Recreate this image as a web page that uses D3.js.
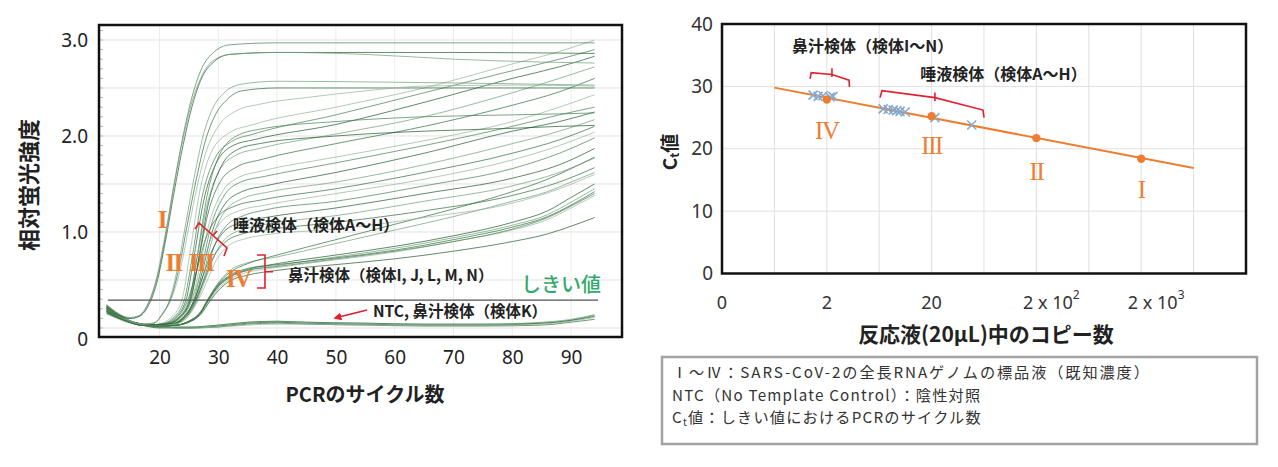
<!DOCTYPE html>
<html lang="ja">
<head>
<meta charset="utf-8">
<script src="https://cdn.jsdelivr.net/npm/d3@7"></script>
<style>
  body { margin: 0; background: #fff; }
</style>
</head>
<body>
<div id="chart"></div>
<script>
// ---- left panel: amplification curves [cycle, relative fluorescence] ----
const cycleTicks = [20, 30, 40, 50, 60, 70, 80, 90];
const rfuTicks = [0, 1, 2, 3];
const rfuTickLabels = ["0", "1.0", "2.0", "3.0"];
const rfuGrid = [0, 0.5, 1, 1.5, 2, 2.5, 3];
const thresholdRfu = 0.29;
const thresholdCycles = [11.2, 94.6];

const stdICurves = [
  [[11,.22],[13,.14],[15,.1],[16.5,.12],[18,.24],[19.5,.5],[21,.95],[22.5,1.5],[24,2.0],[25.5,2.4],[27,2.68],[29,2.86],[32,2.95],[40,2.97],[94,2.97]],
  [[11,.2],[13,.13],[15,.1],[16.5,.12],[18,.22],[19.5,.46],[21,.9],[22.5,1.42],[24,1.9],[25.5,2.3],[27,2.58],[29,2.76],[32,2.85],[40,2.87],[70,2.87],[94,2.86]],
  [[11,.24],[13,.15],[15,.11],[16.5,.13],[18,.25],[19.5,.52],[21,.98],[22.5,1.5],[24,1.97],[25.5,2.35],[27,2.6],[29,2.78],[32,2.85],[40,2.87],[55,2.85],[70,2.8],[85,2.77],[94,2.76]]
];
const stdIICurves = [
  [[11,.2],[14,.1],[17,.04],[19,.05],[20.5,.14],[21.7,.29],[23,.6],[24.5,1.1],[26,1.6],[27.5,2.02],[29,2.28],[31,2.45],[34,2.54],[40,2.57],[60,2.56],[94,2.53]],
  [[11,.18],[14,.1],[17,.04],[19,.05],[20.5,.15],[22,.32],[23.3,.62],[24.8,1.1],[26.3,1.56],[27.8,1.95],[29.5,2.22],[31.5,2.38],[34,2.47],[40,2.5],[94,2.5]],
  [[11,.2],[14,.1],[17,.04],[19,.05],[20.5,.14],[22,.3],[23.5,.6],[25,1.05],[26.5,1.5],[28,1.85],[30,2.1],[33,2.26],[37,2.33],[45,2.4],[55,2.47],[65,2.52],[80,2.53],[94,2.52]]
];
const salivaCurves = [
  [[11,.2],[14,.09],[17,.03],[19.8,.04],[21.8,.1],[23.8,.29],[25.3,.83],[26.8,1.41],[28.8,1.83],[31.8,2.03],[36,2.12],[50,2.3],[65,2.5],[80,2.75],[88,2.88],[94,3.0]],
  [[11,.22],[14,.1],[17,.03],[20.2,.04],[22.2,.1],[24.2,.29],[25.7,.79],[27.2,1.35],[29.2,1.74],[32.2,1.94],[36,2.02],[50,2.22],[65,2.45],[80,2.68],[88,2.8],[94,2.9]],
  [[11,.18],[14,.09],[17,.03],[20.5,.04],[22.5,.1],[24.5,.29],[26,.79],[27.5,1.32],[29.5,1.7],[32.5,1.9],[36,1.96],[50,2.12],[65,2.35],[80,2.6],[88,2.72],[94,2.83]],
  [[11,.21],[14,.1],[17,.03],[21,.04],[23,.1],[25,.29],[26.5,.76],[28,1.26],[30,1.62],[33,1.8],[37,1.87],[50,2.02],[65,2.2],[80,2.45],[88,2.6],[94,2.72]],
  [[11,.16],[14,.08],[17,.03],[21.2,.04],[23.2,.1],[25.2,.29],[26.7,.72],[28.2,1.18],[30.2,1.51],[33.2,1.68],[37,1.75],[50,1.92],[65,2.1],[80,2.32],[88,2.46],[94,2.6]],
  [[11,.2],[14,.09],[17,.03],[21.5,.04],[23.5,.1],[25.5,.29],[27,.68],[28.5,1.1],[30.5,1.4],[33.5,1.57],[37,1.63],[50,1.78],[65,1.95],[80,2.15],[88,2.3],[94,2.43]],
  [[11,.23],[14,.1],[17,.03],[21.8,.04],[23.8,.1],[25.8,.29],[27.3,.67],[28.8,1.07],[30.8,1.36],[33.8,1.52],[38,1.58],[50,1.72],[65,1.9],[80,2.1],[88,2.22],[94,2.3]],
  [[11,.19],[14,.09],[17,.03],[22,.04],[24,.1],[26,.29],[27.5,.64],[29,1.01],[31,1.28],[34,1.42],[38,1.48],[50,1.62],[65,1.82],[80,2.05],[88,2.15],[94,2.25]],
  [[11,.17],[14,.08],[17,.03],[22.2,.04],[24.2,.1],[26.2,.29],[27.7,.62],[29.2,.97],[31.2,1.22],[34.2,1.35],[38,1.41],[50,1.52],[65,1.7],[80,1.92],[88,2.05],[94,2.17]],
  [[11,.22],[14,.1],[17,.03],[20.8,.04],[22.8,.1],[24.8,.29],[26.3,.59],[27.8,.92],[29.8,1.15],[32.8,1.27],[37,1.33],[50,1.45],[65,1.62],[80,1.82],[88,1.96],[94,2.1]],
  [[11,.2],[14,.09],[17,.03],[21.5,.04],[23.5,.1],[25.5,.29],[27,.58],[28.5,.89],[30.5,1.11],[33.5,1.22],[38,1.28],[50,1.4],[65,1.55],[80,1.75],[88,1.9],[94,2.04]],
  [[11,.15],[14,.08],[17,.03],[22.3,.04],[24.3,.1],[26.3,.29],[27.8,.56],[29.3,.85],[31.3,1.06],[34.3,1.17],[38,1.23],[50,1.32],[65,1.48],[80,1.66],[88,1.82],[94,1.98]],
  [[11,.21],[14,.1],[17,.03],[21.9,.04],[23.9,.1],[25.9,.29],[27.4,.54],[28.9,.8],[30.9,1.0],[33.9,1.1],[38,1.15],[50,1.25],[65,1.4],[80,1.56],[88,1.7],[94,1.87]],
  [[11,.18],[14,.09],[17,.03],[22.4,.04],[24.4,.1],[26.4,.29],[27.9,.52],[29.4,.76],[31.4,.94],[34.4,1.03],[38,1.08],[50,1.17],[65,1.32],[80,1.48],[88,1.62],[94,1.77]],
  [[11,.24],[14,.11],[17,.03],[22.1,.04],[24.1,.1],[26.1,.29],[27.6,.5],[29.1,.73],[31.1,.89],[34.1,.98],[38,1.02],[50,1.1],[65,1.22],[80,1.38],[88,1.52],[94,1.67]],
  [[11,.19],[14,.09],[17,.03],[22.6,.04],[24.6,.1],[26.6,.29],[28.1,.49],[29.6,.7],[31.6,.85],[34.6,.93],[38,.97],[50,1.03],[65,1.15],[80,1.3],[88,1.45],[94,1.6]],
  [[11,.2],[14,.09],[17,.03],[21.1,.04],[23.1,.1],[25.1,.29],[26.6,.82],[28.1,1.38],[30.1,1.79],[33.1,2.0],[37,2.07],[50,2.15],[65,2.2],[80,2.22],[88,2.23],[94,2.24]],
  [[11,.17],[14,.08],[17,.03],[21.3,.04],[23.3,.1],[25.3,.29],[26.8,.77],[28.3,1.29],[30.3,1.66],[33.3,1.86],[37,1.92],[50,2.0],[65,2.05],[80,2.08],[88,2.1],[94,2.11]]
];
const nasalCurves = [
  [[11,.2],[14,.09],[17,.04],[20,.02],[23,.03],[25,.07],[27,.16],[28.3,.29],[30,.44],[32,.54],[35,.61],[40,.67],[50,.76],[60,.85],[70,.96],[80,1.1],[86,1.22],[90,1.36],[94,1.5]],
  [[11,.18],[14,.08],[17,.04],[20,.02],[23,.03],[25,.06],[27,.15],[28.4,.29],[30,.43],[32,.53],[35,.6],[40,.65],[50,.74],[60,.83],[70,.94],[80,1.07],[86,1.18],[90,1.31],[94,1.45]],
  [[11,.22],[14,.1],[17,.04],[20,.02],[23,.03],[25,.07],[27,.17],[28.2,.29],[30,.45],[32,.55],[35,.62],[40,.66],[50,.73],[60,.81],[70,.92],[80,1.05],[86,1.16],[90,1.28],[94,1.42]],
  [[11,.16],[14,.08],[17,.04],[20,.02],[23,.03],[25,.06],[27,.15],[28.5,.29],[30,.41],[32,.51],[35,.58],[40,.63],[50,.71],[60,.79],[70,.9],[80,1.02],[86,1.13],[90,1.25],[94,1.38]],
  [[11,.21],[14,.09],[17,.04],[20,.02],[23,.03],[25,.07],[27,.16],[28.3,.29],[30,.43],[32,.53],[35,.6],[40,.64],[50,.72],[60,.8],[70,.9],[80,1.03],[86,1.15],[90,1.27],[94,1.4]],
  [[11,.19],[14,.09],[17,.04],[20,.02],[23,.03],[25,.06],[27,.14],[28.7,.29],[30,.39],[32,.49],[35,.55],[40,.6],[50,.66],[60,.72],[70,.8],[80,.9],[86,.98],[90,1.06],[94,1.15]],
  [[11,.2],[14,.09],[17,.04],[20,.02],[23,.03],[25,.07],[27,.17],[28.1,.29],[30,.47],[32,.6],[35,.68],[40,.74],[50,.88],[60,1.02],[70,1.16],[80,1.32],[86,1.42],[90,1.52],[94,1.62]],
  [[11,.23],[14,.1],[17,.04],[20,.02],[23,.03],[25,.07],[27,.16],[28.2,.29],[30,.46],[32,.58],[35,.67],[40,.76],[50,.92],[60,1.08],[70,1.24],[80,1.42],[86,1.55],[90,1.66],[94,1.78]]
];
const ntcCurves = [
  [[11,.18],[14,.08],[17,.03],[20,.01],[25,.0],[30,.02],[35,.05],[40,.06],[45,.05],[55,.04],[65,.03],[75,.03],[85,.05],[90,.08],[94,.12]],
  [[11,.15],[14,.07],[17,.03],[20,.01],[25,.01],[30,.03],[35,.06],[40,.07],[45,.06],[55,.05],[65,.04],[75,.04],[85,.06],[90,.09],[94,.14]],
  [[11,.2],[14,.09],[17,.03],[20,.0],[25,.0],[30,.01],[35,.04],[40,.05],[45,.04],[55,.03],[65,.02],[75,.02],[85,.03],[90,.06],[94,.09]],
  [[11,.22],[14,.1],[17,.04],[20,.01],[25,.0],[30,.01],[35,.03],[40,.04],[45,.04],[55,.03],[65,.03],[75,.03],[85,.04],[90,.07],[94,.11]],
  [[11,.17],[14,.08],[17,.03],[20,.01],[25,.01],[30,.03],[35,.06],[40,.07],[45,.06],[55,.05],[65,.04],[75,.04],[85,.05],[90,.08],[94,.13]]
];

// ---- right panel: standard curve (copies vs Ct) ----
const stdCopies = [2, 20, 200, 2000];
const stdCt = [27.9, 25.2, 21.7, 18.4];
const stdNames = ["IV", "III", "II", "I"];
const nasalCopies = [1.48, 1.65, 1.84, 2.15, 2.29];
const nasalCt = [28.6, 28.4, 28.5, 28.3, 28.4];
const salivaCopies = [6.9, 7.7, 8.6, 9.3, 10.0, 11.2, 21.5, 48.3];
const salivaCt = [26.4, 26.3, 26.2, 26.1, 26.0, 25.9, 25.0, 23.8];
const fitCopies = [0.632, 6325];
const fitCt = [29.8, 16.9];
const copyTicks = [0.2, 2, 20, 200, 2000];
const copyTickLabels = ["0", "2", "20", "2 x 10", "2 x 10"];
const copyTickSup = ["", "", "", "2", "3"];
const copyGrid = [0.632, 2, 6.32, 20, 63.2, 200, 632, 2000, 6325];
const ctTicks = [0, 10, 20, 30, 40];
const ctGrid = [10, 20, 30];

const noteLines = [
  "Ⅰ～Ⅳ：SARS-CoV-2の全長RNAゲノムの標品液（既知濃度）",
  "NTC（No Template Control）：陰性対照",
  "値：しきい値におけるPCRのサイクル数"
];

const W = 1278, H = 467;
const jp = "'Noto Sans CJK JP', 'Noto Sans', sans-serif";
const num = "'Noto Sans', 'Noto Sans CJK JP', sans-serif";
const serif = "'Liberation Serif', 'DejaVu Serif', serif";

const svg = d3.select("#chart").append("svg")
  .attr("width", W).attr("height", H)
  .attr("font-family", jp)
  .style("display", "block");

const orange = "#ed7d31";
const red = "#e0202e";

// ================= LEFT PANEL =================
const xL = d3.scaleLinear().domain([9.71, 98.66]).range([99, 622]);
const yL = d3.scaleLinear().domain([-0.094, 3.156]).range([337, 25]);

const left = svg.append("g");

left.selectAll(".hgrid").data(rfuGrid).enter().append("line")
  .attr("x1", xL.range()[0]).attr("x2", xL.range()[1])
  .attr("y1", d => yL(d)).attr("y2", d => yL(d))
  .attr("stroke", "#e2e2e2").attr("stroke-width", 1);
left.selectAll(".vgrid").data(cycleTicks).enter().append("line")
  .attr("x1", d => xL(d)).attr("x2", d => xL(d))
  .attr("y1", yL.range()[0]).attr("y2", yL.range()[1])
  .attr("stroke", "#ececec").attr("stroke-width", 1);
left.selectAll(".minor").data(d3.range(0, 3.15, 0.1)).enter().append("line")
  .attr("x1", xL.range()[0]).attr("x2", xL.range()[0] + 4)
  .attr("y1", d => yL(d)).attr("y2", d => yL(d))
  .attr("stroke", "#b5b5b5").attr("stroke-width", 1);

const ampCurves = [...ntcCurves, ...nasalCurves, ...salivaCurves, ...stdIICurves, ...stdICurves];
const greens = ["#1f5a2b", "#6f9c78", "#2f6e3b", "#93b398", "#467f50"];
const ampLine = d3.line()
  .x(d => xL(d[0])).y(d => yL(d[1]))
  .curve(d3.curveMonotoneX);

left.selectAll(".amp").data(ampCurves).enter().append("path")
  .attr("d", ampLine)
  .attr("fill", "none")
  .attr("stroke", (d, i) => greens[i % greens.length])
  .attr("stroke-opacity", 0.7)
  .attr("stroke-width", 1);

left.append("line")
  .attr("x1", xL(thresholdCycles[0])).attr("x2", xL(thresholdCycles[1]))
  .attr("y1", yL(thresholdRfu)).attr("y2", yL(thresholdRfu))
  .attr("stroke", "#555").attr("stroke-width", 1.2);

left.append("rect")
  .attr("x", xL.range()[0]).attr("y", yL.range()[1])
  .attr("width", xL.range()[1] - xL.range()[0])
  .attr("height", yL.range()[0] - yL.range()[1])
  .attr("fill", "none").attr("stroke", "#111").attr("stroke-width", 2.5);

const axL = left.append("g")
  .attr("transform", `translate(${xL.range()[0]},0)`)
  .call(d3.axisLeft(yL).tickValues(rfuTicks).tickSize(0).tickPadding(11)
    .tickFormat((d, i) => rfuTickLabels[i]));
axL.select(".domain").remove();
axL.selectAll("text").attr("font-size", 19).attr("fill", "#222")
  .style("font-family", num)
  .attr("transform", d => d === 0 ? "translate(0,11)" : null);

const axB = left.append("g")
  .attr("transform", `translate(0,${yL.range()[0]})`)
  .call(d3.axisBottom(xL).tickValues(cycleTicks).tickSize(0).tickPadding(14));
axB.select(".domain").remove();
axB.selectAll("text").attr("font-size", 19).attr("fill", "#222")
  .style("font-family", num);

left.append("text")
  .attr("transform", "translate(27,185) rotate(-90)")
  .attr("text-anchor", "middle").attr("dominant-baseline", "central")
  .attr("font-size", 22).attr("font-weight", "bold").attr("fill", "#222")
  .text("相対蛍光強度");
left.append("text")
  .attr("x", 365).attr("y", 393)
  .attr("text-anchor", "middle").attr("dominant-baseline", "central")
  .attr("font-size", 20).attr("font-weight", "bold").attr("fill", "#222")
  .text("PCRのサイクル数");

// annotations (data units)
const leftNumerals = [["I", 20.4, 1.125], ["II", 22.4, 0.68], ["III", 27.1, 0.68], ["IV", 33.4, 0.52]];
left.selectAll(".lnum").data(leftNumerals).enter().append("text")
  .attr("x", d => xL(d[1])).attr("y", d => yL(d[2]))
  .attr("text-anchor", "middle").attr("dominant-baseline", "central")
  .style("font-family", serif).attr("letter-spacing", -1.5)
  .attr("font-size", 25).attr("font-weight", "bold").attr("fill", orange)
  .text(d => d[0]);

const leftLabels = [
  ["唾液検体（検体A～H）", 32.5, 1.083, 16],
  ["鼻汁検体（検体I, J, L, M, N）", 41.85, 0.5625, 15.5],
  ["NTC, 鼻汁検体（検体K）", 56.3, 0.1875, 15.5]
];
left.selectAll(".llab").data(leftLabels).enter().append("text")
  .attr("x", d => xL(d[1])).attr("y", d => yL(d[2]))
  .attr("dominant-baseline", "central")
  .attr("font-size", d => d[3]).attr("font-weight", "bold").attr("fill", "#222")
  .text(d => d[0]);

left.append("text")
  .attr("x", xL(88.3)).attr("y", yL(0.46))
  .attr("text-anchor", "middle").attr("dominant-baseline", "central")
  .attr("font-size", 20).attr("font-weight", 500).attr("fill", "#33a96b")
  .text("しきい値");

const bracketLine = d3.line().x(d => xL(d[0])).y(d => yL(d[1]));
const leftBrackets = [
  [[26.04, 1.031], [26.72, 1.094], [31.48, 0.833], [30.97, 0.75]],
  [[29.1, 0.964], [29.78, 1.01]],
  [[36.58, 0.76], [37.94, 0.76], [37.94, 0.417], [36.58, 0.417]],
  [[37.94, 0.586], [39.3, 0.586]]
];
left.selectAll(".lbr").data(leftBrackets).enter().append("path")
  .attr("d", bracketLine).attr("fill", "none")
  .attr("stroke", red).attr("stroke-width", 1.6);

// arrow to NTC curves
svg.append("defs").append("marker")
  .attr("id", "arrowhead").attr("viewBox", "0 0 10 10")
  .attr("refX", 8).attr("refY", 5)
  .attr("markerWidth", 5).attr("markerHeight", 5)
  .attr("orient", "auto")
  .append("path").attr("d", "M0,0 L10,5 L0,10 z").attr("fill", red);
left.append("line")
  .attr("x1", xL(55.3)).attr("y1", yL(0.1875))
  .attr("x2", xL(49.85)).attr("y2", yL(0.104))
  .attr("stroke", red).attr("stroke-width", 1.6)
  .attr("marker-end", "url(#arrowhead)");

// ================= RIGHT PANEL =================
const xR = d3.scaleLog().domain([0.2, 20000]).range([722, 1246]);
const yR = d3.scaleLinear().domain([0, 40]).range([273.5, 24]);

const right = svg.append("g");

right.selectAll(".rv").data(copyGrid).enter().append("line")
  .attr("x1", d => xR(d)).attr("x2", d => xR(d))
  .attr("y1", yR(0)).attr("y2", yR(40))
  .attr("stroke", "#e0e0e0").attr("stroke-width", 1);
right.selectAll(".rh").data(ctGrid).enter().append("line")
  .attr("x1", xR.range()[0]).attr("x2", xR.range()[1])
  .attr("y1", d => yR(d)).attr("y2", d => yR(d))
  .attr("stroke", "#e0e0e0").attr("stroke-width", 1);

right.append("path")
  .datum(d3.zip(fitCopies, fitCt))
  .attr("d", d3.line().x(d => xR(d[0])).y(d => yR(d[1])))
  .attr("fill", "none").attr("stroke", orange).attr("stroke-width", 2);

const crossData = [...d3.zip(nasalCopies, nasalCt), ...d3.zip(salivaCopies, salivaCt)];
right.selectAll(".cross").data(crossData).enter().append("path")
  .attr("d", d => {
    const cx = xR(d[0]), cy = yR(d[1]), s = 4.5;
    return `M${cx - s},${cy - s}L${cx + s},${cy + s}M${cx - s},${cy + s}L${cx + s},${cy - s}`;
  })
  .attr("stroke", "#86a9cf").attr("stroke-width", 1.6).attr("fill", "none");

right.selectAll(".std").data(d3.zip(stdCopies, stdCt)).enter().append("circle")
  .attr("cx", d => xR(d[0])).attr("cy", d => yR(d[1]))
  .attr("r", 4.2).attr("fill", orange);

const rightNumeralCt = [23, 20.6, 16.3, 13.5];
right.selectAll(".rnum").data(stdNames).enter().append("text")
  .attr("x", (d, i) => xR(stdCopies[i])).attr("y", (d, i) => yR(rightNumeralCt[i]))
  .attr("text-anchor", "middle").attr("dominant-baseline", "central")
  .style("font-family", serif).attr("letter-spacing", -1.5)
  .attr("font-size", 25).attr("fill", orange)
  .text(d => d);

right.append("rect")
  .attr("x", xR.range()[0]).attr("y", yR(40))
  .attr("width", xR.range()[1] - xR.range()[0])
  .attr("height", yR(0) - yR(40))
  .attr("fill", "none").attr("stroke", "#111").attr("stroke-width", 2.5);

const axRL = right.append("g")
  .attr("transform", `translate(${xR.range()[0]},0)`)
  .call(d3.axisLeft(yR).tickValues(ctTicks).tickSize(0).tickPadding(9));
axRL.select(".domain").remove();
axRL.selectAll("text").attr("font-size", 19).attr("fill", "#333")
  .style("font-family", num);

const xLab = right.selectAll(".xl").data(copyTicks).enter().append("text")
  .attr("x", (d, i) => xR(d) + (copyTickSup[i] ? 15 : 0))
  .attr("y", 302)
  .attr("text-anchor", "middle").attr("dominant-baseline", "central")
  .style("font-family", num)
  .attr("font-size", 18).attr("fill", "#333");
xLab.append("tspan").text((d, i) => copyTickLabels[i]);
xLab.append("tspan")
  .attr("font-size", 12).attr("dy", -8)
  .text((d, i) => copyTickSup[i]);

right.append("text")
  .attr("x", 986).attr("y", 333)
  .attr("text-anchor", "middle").attr("dominant-baseline", "central")
  .attr("font-size", 21).attr("font-weight", "bold").attr("fill", "#222")
  .text("反応液(20μL)中のコピー数");

const ctLab = right.append("text")
  .attr("transform", "translate(668,152) rotate(-90)")
  .attr("text-anchor", "middle").attr("dominant-baseline", "central")
  .attr("font-size", 19).attr("font-weight", "bold").attr("fill", "#222");
ctLab.append("tspan").text("C");
ctLab.append("tspan").attr("font-size", 12).attr("dy", 5).text("t");
ctLab.append("tspan").attr("dy", -5).text("値");

const rightLabels = [
  ["鼻汁検体（検体I～N）", 0.932, 36.6],
  ["唾液検体（検体A～H）", 15.6, 32.1]
];
right.selectAll(".rlab").data(rightLabels).enter().append("text")
  .attr("x", d => xR(d[1])).attr("y", d => yR(d[2]))
  .attr("dominant-baseline", "central")
  .attr("font-size", 16).attr("font-weight", "bold").attr("fill", "#222")
  .text(d => d[0]);

const rbLine = d3.line().x(d => xR(d[0])).y(d => yR(d[1]));
const rightBrackets = [
  [[1.384, 31.2], [1.42, 32.2], [2.24, 31.9], [3.26, 31.0], [3.29, 29.9]],
  [[2.24, 32.9], [2.24, 31.5]],
  [[6.44, 28.2], [6.72, 29.3], [21.5, 28.2], [61.9, 26.2], [63.3, 25.0]],
  [[21.5, 29.0], [21.5, 27.6]]
];
right.selectAll(".rbr").data(rightBrackets).enter().append("path")
  .attr("d", rbLine).attr("fill", "none")
  .attr("stroke", red).attr("stroke-width", 1.6);

// ================= NOTE BOX =================
const note = svg.append("g");
note.append("rect")
  .attr("x", 662).attr("y", 357).attr("width", 595).attr("height", 87)
  .attr("fill", "#fff").attr("stroke", "#a3a3a3").attr("stroke-width", 2.5);
const noteY = [378, 400.5, 423];
const noteSize = 15.2;
note.append("text").attr("x", 672).attr("y", noteY[0])
  .attr("font-size", noteSize).attr("letter-spacing", 1.9).attr("fill", "#333")
  .text(noteLines[0]);
note.append("text").attr("x", 672).attr("y", noteY[1])
  .attr("font-size", noteSize).attr("letter-spacing", 1.2).attr("fill", "#333")
  .text(noteLines[1]);
const line3 = note.append("text").attr("x", 672).attr("y", noteY[2])
  .attr("font-size", noteSize).attr("letter-spacing", 1.2).attr("fill", "#333");
line3.append("tspan").text("C");
line3.append("tspan").attr("font-size", 10).attr("dy", 3).text("t");
line3.append("tspan").attr("dy", -3).text(noteLines[2]);
</script>
</body>
</html>
